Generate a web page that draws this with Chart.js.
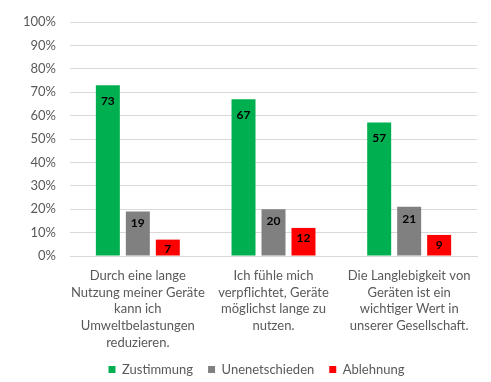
<!DOCTYPE html>
<html><head><meta charset="utf-8">
<script src="https://cdn.jsdelivr.net/npm/chart.js@4/dist/chart.umd.min.js"></script>
<style>html,body{margin:0;padding:0;background:#fff}#wrap{width:491px;height:382px}</style>
</head><body><div id="wrap"><canvas id="c" width="491" height="382"></canvas></div>
<script>
const categories = [
  ["Durch eine lange","Nutzung meiner Geräte","kann ich","Umweltbelastungen","reduzieren."],
  ["Ich fühle mich","verpflichtet, Geräte","möglichst lange zu","nutzen."],
  ["Die Langlebigkeit von","Geräten ist ein","wichtiger Wert in","unserer Gesellschaft."]
];
const seriesNames = ["Zustimmung","Unenetschieden","Ablehnung"];
const zustimmung = [73,67,57];
const unentschieden = [19,20,21];
const ablehnung = [7,12,9];
const yTicks = [0,10,20,30,40,50,60,70,80,90,100];
const colors = ["#00B050","#808080","#FF0000"];
const labelOffsets = [16,12,10];
const FONT = "Lato, 'Open Sans', sans-serif";
const AREA_BOTTOM = 256, EXTRA = 12, LEGEND_TOP = 348;

const labelPlugin = {
  id:'vals',
  afterDatasetsDraw(chart){
    const ctx = chart.ctx;
    ctx.save();
    ctx.font = "bold 12px " + FONT;
    ctx.fillStyle = "#000";
    ctx.textAlign = "center";
    ctx.textBaseline = "middle";
    chart.data.datasets.forEach((ds,i)=>{
      chart.getDatasetMeta(i).data.forEach((el,j)=>{
        ctx.fillText(String(ds.data[j]), el.x, el.y + labelOffsets[i]);
      });
    });
    ctx.restore();
  }
};
const legendShift = {
  id:'legendShift',
  afterLayout(chart){
    const lg = chart.legend;
    if (lg){ const h = lg.bottom - lg.top; lg.left += 36; lg.top = LEGEND_TOP; lg.bottom = LEGEND_TOP + h; }
  }
};

new Chart(document.getElementById('c'), {
  type:'bar',
  data:{
    labels: categories,
    datasets: [zustimmung, unentschieden, ablehnung].map((d,i)=>({
      label: seriesNames[i], data: d, backgroundColor: colors[i],
      categoryPercentage: 0.663, barPercentage: 0.8
    }))
  },
  options:{
    responsive:false, animation:false,
    layout:{padding:{top:22,right:14,left:0,bottom:-EXTRA}},
    plugins:{
      legend:{position:'bottom',
        labels:{boxWidth:7,boxHeight:7,font:{size:13,family:FONT},color:'#595959',padding:15}},
      tooltip:{enabled:false}
    },
    scales:{
      x:{grid:{display:false},border:{color:'#D9D9D9'},
         afterFit(s){ s.height = 382 + EXTRA - AREA_BOTTOM - s.chart.legend.height; },
         ticks:{font:{size:13,family:FONT,lineHeight:1.3},color:'#595959',maxRotation:0,autoSkip:false,padding:3}},
      y:{min:0,max:100,
         afterBuildTicks(s){ s.ticks = yTicks.map(v=>({value:v})); },
         afterFit(s){ s.width = 70; },
         grid:{color:'#D9D9D9',drawTicks:false},border:{display:false},
         ticks:{font:{size:13,family:FONT},color:'#595959',padding:14,callback:v=>v+'%'}}
    }
  },
  plugins:[labelPlugin, legendShift]
});
</script></body></html>
